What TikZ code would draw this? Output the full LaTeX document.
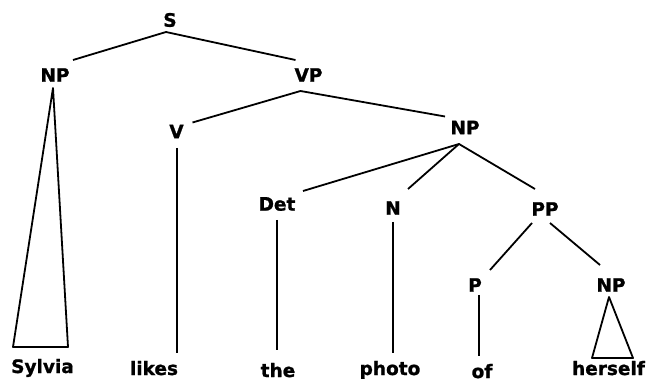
\documentclass[tikz,border=0pt]{standalone}
\usepackage{fontspec}
\setmainfont{DejaVu Sans}
\newfontfamily\lblfont{DejaVu Sans Bold}[FakeBold=1.2]
\begin{document}
\begin{tikzpicture}[x=1pt,y=-1pt,
  lbl/.style={font=\lblfont\fontsize{18.5}{21}\selectfont, inner sep=0pt},
  word/.style={lbl, anchor=base},
  edge/.style={line width=1.8pt, line join=round}]
\fill[white] (0,0) rectangle (651,382);
\useasboundingbox (0,0) rectangle (651,382);
% category labels
\node[lbl] (S)   at (170,20)  {S};
\node[lbl] (NPa) at (55,75)   {NP};
\node[lbl] (VP)  at (308.5,75) {VP};
\node[lbl] (V)   at (176.5,131.5) {V};
\node[lbl] (NPb) at (465,127.5) {NP};
\node[lbl] (Det) at (277,204) {Det};
\node[lbl] (N)   at (393,208) {N};
\node[lbl] (PP)  at (545,209) {PP};
\node[lbl] (P)   at (475,285) {P};
\node[lbl] (NPc) at (611,285) {NP};
% words
\node[word] (w1) at (42.5,373) {Sylvia};
\node[word] (w2) at (154,375) {likes};
\node[word] (w3) at (278,377) {the};
\node[word] (w4) at (390,375) {photo};
\node[word] (w5) at (482,378) {of};
\node[word] (w6) at (608.5,375) {herself};
% branches
\draw[edge] ([shift={(18,-15)}]NPa.center) -- ([shift={(-4,12)}]S.center) -- ([shift={(-13,-15)}]VP.center);
\draw[edge] ([shift={(16,-9)}]V.center) -- ([shift={(-8,16)}]VP.center) -- ([shift={(-20,-11)}]NPb.center);
\draw[edge] ([shift={(26,-13)}]Det.center) -- ([shift={(-6,16.5)}]NPb.center) -- ([shift={(-10,-20)}]PP.center);
\draw[edge] ([shift={(-6,16.5)}]NPb.center) -- ([shift={(15,-19)}]N.center);
\draw[edge] ([shift={(-13,14)}]PP.center) -- ([shift={(15,-15)}]P.center);
\draw[edge] ([shift={(5,14)}]PP.center) -- ([shift={(-11,-20)}]NPc.center);
% unary lines
\draw[edge] ([shift={(0.5,16.5)}]V.center) -- ([shift={(23,-22)}]w2.base);
\draw[edge] ([shift={(0,16)}]Det.center) -- ([shift={(-1,-27)}]w3.base);
\draw[edge] ([shift={(0,14)}]N.center) -- ([shift={(3,-22)}]w4.base);
\draw[edge] ([shift={(4,10)}]P.center) -- ([shift={(-3,-22)}]w5.base);
% triangles
\draw[edge] ([shift={(-2,13)}]NPa.center) -- ([shift={(-29.5,-26)}]w1.base) -- ([shift={(25.5,-26)}]w1.base) -- cycle;
\draw[edge] ([shift={(-2,12)}]NPc.center) -- ([shift={(-16.5,-17)}]w6.base) -- ([shift={(24.5,-17)}]w6.base) -- cycle;
\end{tikzpicture}
\end{document}
